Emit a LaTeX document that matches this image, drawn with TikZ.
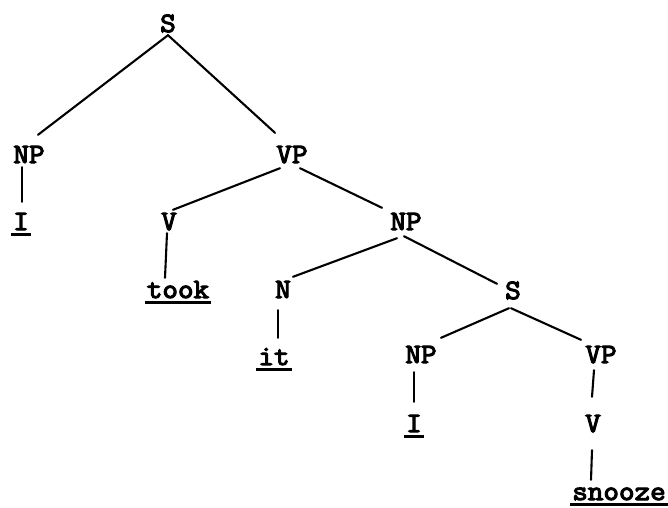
\documentclass[tikz,border=0pt]{standalone}
\usepackage{fontspec}
\usetikzlibrary{calc}
\newfontfamily\tw{Latin Modern Mono}[FakeStretch=1.08, FakeBold=4]
\newcommand{\wordul}[1]{\setbox0\hbox{#1}\rlap{\kern-2pt\raisebox{-6pt}{\rule{\dimexpr\wd0+4pt\relax}{3pt}}}\box0}
\tikzset{
  lbl/.style={font=\tw\fontsize{28}{28}\selectfont, anchor=base, inner sep=3pt, text height=16pt, text depth=0pt},
  wrd/.style={lbl, text depth=8pt},
  edge/.style={line width=2.1pt, line cap=round}
}
\begin{document}
\begin{tikzpicture}[x=1pt,y=-1pt]
\useasboundingbox (0,0) rectangle (668,507);
\node[lbl] (s)    at (168,32)  {S};
\node[lbl] (np1)  at (29,163)  {NP};
\node[wrd] (i1)   at (21,230)  {\wordul{I}};
\node[lbl] (vp1)  at (292,163) {VP};
\node[lbl] (v1)   at (169,230) {V};
\node[lbl] (np2)  at (406,230) {NP};
\node[wrd] (took) at (178,298) {\wordul{took}};
\node[lbl] (n)    at (283,298) {N};
\node[lbl] (s2)   at (513,299) {S};
\node[wrd] (it)   at (274,365) {\wordul{it}};
\node[lbl] (np3)  at (421,363) {NP};
\node[lbl] (vp2)  at (601,363) {VP};
\node[wrd] (i2)   at (414,432) {\wordul{I}};
\node[lbl] (v2)   at (593,432) {V};
\node[wrd] (snz)  at (619,500) {\wordul{snooze}};
\draw[edge] (s.south) -- ($(np1.north)+(9,-9)$);
\draw[edge] (s.south) -- ($(vp1.north)+(-17,-11)$);
\draw[edge] ($(np1.south)+(-7,1)$) -- ($(i1.north)+(1,-9)$);
\draw[edge] ($(vp1.south)+(-12,2)$) -- ($(v1.north)+(4,-1)$);
\draw[edge] ($(vp1.south)+(8,2)$) -- ($(np2.north)+(-24,-3)$);
\draw[edge] ($(v1.south)+(-2,0)$) -- ($(took.north)+(-13,-1)$);
\draw[edge] ($(np2.south)+(-9,5)$) -- ($(n.north)+(10,-2)$);
\draw[edge] ($(np2.south)+(-2,3)$) -- ($(s2.north)+(-16,4)$);
\draw[edge] ($(n.south)+(-5,9)$) -- ($(it.north)+(4,-8)$);
\draw[edge] ($(s2.south)+(-4,6)$) -- ($(np3.north)+(20,-6)$);
\draw[edge] ($(s2.south)+(-2,6)$) -- ($(vp2.north)+(-20,-4)$);
\draw[edge] ($(np3.south)+(-7,6)$) -- ($(i2.north)+(0,-11)$);
\draw[edge] ($(vp2.south)+(-7,4)$) -- ($(v2.north)+(-1,-16)$);
\draw[edge] ($(v2.south)+(-1,15)$) -- ($(snz.north)+(-28,-1)$);
\end{tikzpicture}
\end{document}
